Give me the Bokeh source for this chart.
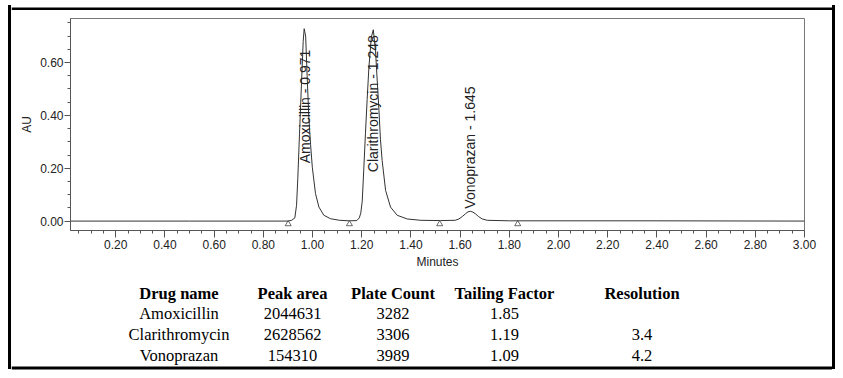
import math
from bokeh.plotting import figure
from bokeh.layouts import column, row
from bokeh.models import Range1d, FixedTicker, NumeralTickFormatter, Spacer
from bokeh.core.properties import value
from bokeh.embed import file_html
from bokeh.resources import INLINE

# ---------------- data ----------------
time_min = [0.016, 0.50, 0.90, 0.915, 0.928, 0.935, 0.940, 0.947, 0.955, 0.962, 0.966,
            0.972, 0.978, 0.985, 0.992, 0.999, 1.012, 1.026, 1.046, 1.073, 1.110, 1.150,
            1.180, 1.190, 1.196, 1.202, 1.208, 1.215, 1.222, 1.229, 1.239, 1.247, 1.256,
            1.263, 1.270, 1.276, 1.283, 1.297, 1.317, 1.344, 1.385, 1.440, 1.520, 1.580,
            1.595, 1.610, 1.622, 1.632, 1.642, 1.652, 1.663, 1.675, 1.690, 1.710, 1.800,
            2.400, 3.000]
absorbance = [0.000, 0.000, 0.000, 0.003, 0.012, 0.060, 0.160, 0.330, 0.520, 0.680, 0.728,
              0.700, 0.550, 0.390, 0.290, 0.204, 0.104, 0.053, 0.022, 0.009, 0.003, 0.001,
              0.002, 0.012, 0.030, 0.075, 0.190, 0.330, 0.460, 0.580, 0.696, 0.724, 0.645,
              0.530, 0.419, 0.310, 0.229, 0.116, 0.053, 0.022, 0.008, 0.003, 0.002, 0.003,
              0.008, 0.018, 0.028, 0.035, 0.037, 0.034, 0.027, 0.017, 0.008, 0.003, 0.001,
              0.001, 0.000]

peak_names = ["Amoxicillin", "Clarithromycin", "Vonoprazan"]
peak_rt = ["0.971", "1.248", "1.645"]
peak_apex_time = [0.968, 1.247, 1.640]
label_start_au = [0.219, 0.185, 0.047]
baseline_marks = [0.901, 1.150, 1.517, 1.834]
baseline_mark_au = [-0.011, -0.011, -0.011, -0.011]

x_ticks = [0.20, 0.40, 0.60, 0.80, 1.00, 1.20, 1.40, 1.60, 1.80, 2.00,
           2.20, 2.40, 2.60, 2.80, 3.00]
x_minor = [round(0.05 * i, 2) for i in range(1, 61)]
y_ticks = [0.00, 0.20, 0.40, 0.60]
y_minor = [round(0.05 * i, 2) for i in range(0, 16)]

# ---------------- table ----------------
table_headers = ["Drug name", "Peak area", "Plate Count", "Tailing Factor", "Resolution"]
drug_names = ["Amoxicillin", "Clarithromycin", "Vonoprazan"]
peak_area = ["2044631", "2628562", "154310"]
plate_count = ["3282", "3306", "3989"]
tailing_factor = ["1.85", "1.19", "1.09"]
resolution = ["", "3.4", "4.2"]

SANS = "Liberation Sans"
SERIF = "Liberation Serif"
BORDER_W = 3
INNER_X0, INNER_X1 = 11, 832          # canvas x span of the inner column


def pixel_fig(h, y0):
    """Figure spanning the inner width, using canvas pixel coordinates."""
    f = figure(width=INNER_X1 - INNER_X0, height=h, output_backend="svg",
               toolbar_location=None, title=None,
               x_range=Range1d(INNER_X0, INNER_X1), y_range=Range1d(y0 + h, y0),
               x_axis_type=None, y_axis_type=None,
               min_border=0, min_border_left=0, min_border_right=0,
               min_border_top=0, min_border_bottom=0)
    f.outline_line_color = None
    f.grid.visible = False
    f.background_fill_color = "white"
    f.border_fill_color = "white"
    return f


# ---------------- chart ----------------
p = figure(width=INNER_X1 - INNER_X0, height=265, output_backend="svg", toolbar_location=None,
           x_range=Range1d(0.016, 3.0), y_range=Range1d(-0.0356, 0.7666),
           min_border_left=59, min_border_right=28, min_border_top=8, min_border_bottom=45)
p.xgrid.visible = False
p.ygrid.visible = False
p.outline_line_color = "#777777"
p.outline_line_width = 1
p.background_fill_color = "white"
p.border_fill_color = "white"

for ax in (p.xaxis[0], p.yaxis[0]):
    ax.axis_line_color = "#555555"
    ax.major_tick_line_color = "#555555"
    ax.minor_tick_line_color = "#555555"
    ax.major_tick_in = 0
    ax.minor_tick_in = 0
    ax.major_label_text_font = SANS
    ax.major_label_text_font_size = "12px"
    ax.major_label_text_color = "#222222"
    ax.axis_label_text_font = SANS
    ax.axis_label_text_font_size = "12px"
    ax.axis_label_text_font_style = "normal"
    ax.axis_label_text_color = "#222222"
    ax.formatter = NumeralTickFormatter(format="0.00")

p.xaxis.ticker = FixedTicker(ticks=x_ticks, minor_ticks=x_minor)
p.xaxis.major_tick_out = 7
p.xaxis.minor_tick_out = 3
p.xaxis.major_label_standoff = 2
p.xaxis.axis_label = "Minutes"
p.xaxis.axis_label_standoff = 3

p.yaxis.ticker = FixedTicker(ticks=y_ticks, minor_ticks=y_minor)
p.yaxis.major_tick_out = 6
p.yaxis.minor_tick_out = 3
p.yaxis.major_label_standoff = 1
p.yaxis.axis_label = "AU"
p.yaxis.axis_label_standoff = 3

p.line(time_min, absorbance, line_color="#333333", line_width=1)
p.scatter(baseline_marks, baseline_mark_au, marker="triangle", size=6,
          fill_color=None, line_color="#444444", line_width=0.8)

p.text(x=peak_apex_time, y=label_start_au,
       text=[f"{n} - {rt}" for n, rt in zip(peak_names, peak_rt)],
       angle=math.pi / 2, text_align="left", text_baseline="middle",
       text_font=value(SANS), text_font_size="14px", text_color="#222222")

# ---------------- top strip (canvas y 0..10) with the top border line ----------------
top = pixel_fig(10, 0)
top.segment(x0=[INNER_X0], y0=[6.5], x1=[INNER_X1], y1=[6.5],
            line_color="black", line_width=BORDER_W)

# ---------------- table panel (canvas y 275..378) with the bottom border line ----------------
tab = pixel_fig(103, 275)
tab.segment(x0=[INNER_X0], y0=[367.5], x1=[INNER_X1], y1=[367.5],
            line_color="black", line_width=BORDER_W)

col_x = [178.5, 292, 392.5, 504, 641.5]
header_y = 292.7
row_y = [312.7, 334.3, 355.0]

tab.text(x=col_x, y=[header_y] * len(col_x), text=table_headers,
         text_align="center", text_baseline="middle",
         text_font=value(SERIF), text_font_size="16.5px", text_font_style="bold",
         text_color="black")
columns = [drug_names, peak_area, plate_count, tailing_factor, resolution]
for cx, col in zip(col_x, columns):
    tab.text(x=[cx] * len(col), y=row_y, text=col,
             text_align="center", text_baseline="middle",
             text_font=value(SERIF), text_font_size="16.5px", text_color="black")

inner = column(row(top, spacing=0), row(p, spacing=0), row(tab, spacing=0), spacing=0)

# ---------------- left / right border bars (canvas y 5..369) ----------------
def side_bar():
    return column(Spacer(width=BORDER_W, height=5),
                  Spacer(width=BORDER_W, height=364, styles={"background-color": "black"}),
                  Spacer(width=BORDER_W, height=9), spacing=0)

layout = row(Spacer(width=8, height=378), side_bar(), inner, side_bar(),
             Spacer(width=8, height=378), spacing=0)

open("out.html", "w").write(file_html(layout, INLINE))
